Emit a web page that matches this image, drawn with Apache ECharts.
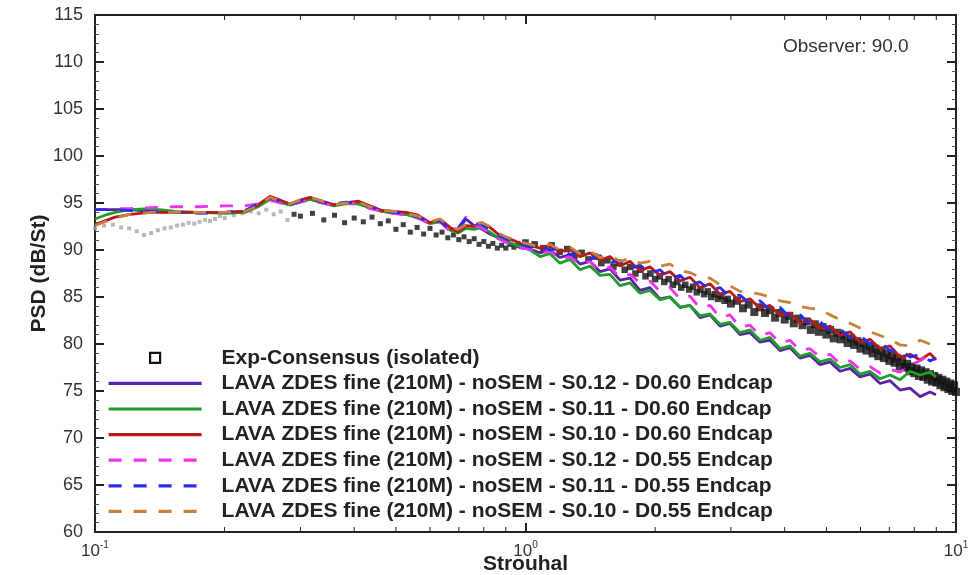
<!DOCTYPE html>
<html><head><meta charset="utf-8">
<script src="https://cdn.jsdelivr.net/npm/echarts@6/dist/echarts.min.js"></script>
<style>html,body{margin:0;padding:0;background:#fff}#c{width:968px;height:575px}</style>
</head><body><div id="c"></div>
<script>
// ---------- DATA ----------
const seriesNames = [
  'Exp-Consensus (isolated)',
  'LAVA ZDES fine (210M) - noSEM - S0.12 - D0.60 Endcap',
  'LAVA ZDES fine (210M) - noSEM - S0.11 - D0.60 Endcap',
  'LAVA ZDES fine (210M) - noSEM - S0.10 - D0.60 Endcap',
  'LAVA ZDES fine (210M) - noSEM - S0.12 - D0.55 Endcap',
  'LAVA ZDES fine (210M) - noSEM - S0.11 - D0.55 Endcap',
  'LAVA ZDES fine (210M) - noSEM - S0.10 - D0.55 Endcap'
];
const simSt = [0.100,0.1055,0.1113,0.1206,0.1342,0.1534,0.1753,0.2004,0.2231,0.2390,0.2549,0.2690,0.2838,0.2995,0.3158,0.3368,0.3591,0.3828,0.4082,0.4352,0.4642,0.4949,0.5277,0.5627,0.6000,0.6328,0.6678,0.6970,0.7274,0.7592,0.7925,0.8270,0.8631,0.9008,0.9404,0.9815,
1.0245,1.0807,1.140,1.2026,1.2688,1.3383,1.4118,1.4897,1.5714,1.6578,1.7486,1.8450,1.946,2.053,2.166,2.285,2.410,2.543,2.683,2.830,2.985,3.149,3.323,3.505,3.698,3.901,4.116,4.342,4.581,4.832,5.098,5.378,5.674,5.984,6.313,6.662,7.027,7.413,7.820,8.251,8.704,8.984];
const purpleDb = [94.3,94.3,94.3,94.3,94.1,94.0,94.0,94.0,94.1,94.8,95.4,95.1,94.8,95.2,95.4,95.1,94.8,95.0,95.0,94.5,94.1,94.0,93.8,93.5,92.9,93.1,92.3,92.1,93.3,92.6,92.2,91.7,91.3,90.9,90.5,90.2,
90.1,89.7,90.0,89.2,89.5,88.5,88.8,87.7,88.0,86.8,87.0,85.7,86.0,84.8,85.0,83.9,84.1,82.8,83.1,81.9,82.2,81.0,81.2,80.2,80.4,79.3,79.6,78.5,78.8,77.8,78.1,77.1,77.4,76.5,76.8,75.8,76.1,75.1,75.3,74.4,74.9,74.6];
const greenDb = [93.3,93.7,94.0,94.3,94.4,94.1,94.0,93.9,94.0,94.6,95.4,95.1,94.8,95.1,95.4,95.0,94.7,94.9,94.9,94.5,94.1,93.9,93.8,93.4,92.8,93.0,92.1,91.8,92.3,92.2,92.4,91.9,91.3,90.9,90.6,90.3,
90.0,89.3,89.6,88.6,89.0,87.9,88.3,87.3,87.4,86.2,86.5,85.4,85.7,84.7,85.0,83.9,84.1,83.0,83.2,82.1,82.3,81.2,81.5,80.4,80.7,79.5,79.8,78.7,79.0,78.1,78.4,77.5,77.8,76.8,77.1,76.3,76.7,76.2,77.1,76.7,77.0,76.5];
const redDb = [92.7,93.1,93.5,93.8,94.0,94.0,94.0,94.0,94.1,94.8,95.7,95.3,94.9,95.3,95.6,95.2,94.8,95.0,95.2,94.7,94.2,94.1,94.0,93.7,92.9,93.3,92.4,91.9,92.6,92.5,92.9,92.4,91.7,91.3,91.0,90.6,
90.5,90.2,90.5,89.8,90.1,89.3,89.7,88.9,89.3,88.3,88.8,87.8,88.2,87.3,87.7,86.7,87.1,86.0,86.4,85.3,85.6,84.5,84.8,83.8,84.1,83.0,83.3,82.2,82.6,81.6,81.9,80.9,81.3,80.2,80.5,79.5,79.8,78.6,78.9,78.3,79.0,78.3];
const magentaDb = [94.3,94.3,94.4,94.4,94.5,94.6,94.6,94.7,94.7,94.9,95.3,95.0,94.8,95.1,95.3,95.0,94.7,95.0,94.9,94.4,94.1,93.9,93.7,93.4,92.8,93.0,92.0,92.3,93.5,92.7,92.3,91.8,91.2,90.8,90.4,90.2,
90.1,89.6,89.9,89.0,89.3,88.4,88.8,87.8,88.2,87.1,87.4,86.5,86.7,85.6,86.0,84.8,85.1,83.8,84.1,82.8,83.1,81.8,82.0,80.9,81.2,80.1,80.4,79.3,79.5,78.6,78.9,77.9,78.2,77.3,77.6,76.9,77.3,77.0,77.8,78.2,78.9,78.4];
const blueDb = [94.3,94.3,94.3,94.2,94.1,94.0,93.9,94.0,94.2,94.9,95.5,95.2,94.8,95.2,95.5,95.1,94.9,95.1,95.0,94.6,94.2,94.0,93.9,93.5,93.0,93.1,92.2,92.3,93.4,92.8,92.7,92.2,91.6,91.2,90.8,90.6,
90.3,90.5,90.0,90.2,89.5,89.8,89.0,89.4,88.6,88.9,88.0,88.4,87.5,87.9,86.9,87.3,86.3,86.6,85.7,86.0,85.0,85.2,84.3,84.6,83.6,83.9,82.8,83.1,82.1,82.4,81.4,81.6,80.7,80.9,80.0,80.2,79.3,79.4,78.6,78.9,78.2,78.5];
const orangeDb = [92.6,93.0,93.4,93.8,94.0,94.0,94.0,94.0,94.1,94.7,95.6,95.2,94.9,95.3,95.6,95.2,94.8,95.0,95.1,94.6,94.2,94.1,93.9,93.6,93.0,93.3,92.5,92.2,92.7,92.8,92.9,92.5,91.8,91.4,91.1,90.8,
90.6,90.3,90.6,90.0,90.3,89.6,89.9,89.2,89.4,88.8,89.1,88.6,88.8,88.3,88.5,87.8,87.6,87.1,87.0,86.3,86.2,85.6,85.5,85.3,85.0,84.6,84.4,84.0,83.8,83.7,83.1,82.6,82.2,81.7,81.3,80.9,80.5,79.9,79.8,80.4,80.0,80.7];

const expSt = [0.100,0.105,0.110,0.115,0.120,0.125,0.130,0.135,0.140,0.145,0.150,0.155,0.160,0.165,0.170,0.175,0.180,0.185,0.190,0.195,0.200,0.210,0.220,0.230,0.240,0.250,0.260,0.270,0.280,0.290,
0.30,0.32,0.34,0.36,0.38,0.40,0.42,0.44,0.46,0.48,0.50,0.52,0.54,0.56,0.58,0.60,0.62,0.64,0.66,0.68,0.70,0.72,0.74,0.76,0.78,0.80,0.82,0.84,0.86,0.88,0.90,0.92,0.94,0.96,0.98,1.00,
1.05,1.10,1.15,1.20,1.25,1.30,1.35,1.40,1.45,1.50,1.55,1.60,1.65,1.70,1.75,1.80,1.85,1.90,1.95,2.00,2.05,2.10,2.15,2.20,2.25,2.30,2.35,2.40,2.45,2.50,2.55,2.60,2.65,2.70,2.75,2.80,2.85,2.90,2.95,3.00,
3.1,3.2,3.3,3.4,3.5,3.6,3.7,3.8,3.9,4.0,4.1,4.2,4.3,4.4,4.5,4.6,4.7,4.8,4.9,5.0,5.1,5.2,5.3,5.4,5.5,5.6,5.7,5.8,5.9,6.0,6.1,6.2,6.3,6.4,6.5,6.6,6.7,6.8,6.9,7.0,
7.1,7.2,7.3,7.4,7.5,7.6,7.7,7.8,7.9,8.0,8.1,8.2,8.3,8.4,8.5,8.6,8.7,8.8,8.9,9.0,9.1,9.2,9.3,9.4,9.5,9.6,9.7,9.8,9.9,10.0];
const expDb = [92.3,92.6,92.7,92.4,92.3,92.0,91.6,91.8,92.1,92.3,92.4,92.6,92.7,92.9,92.8,93.0,93.2,93.1,93.3,93.6,93.4,93.7,93.9,94.1,93.9,94.3,93.8,94.1,93.2,93.8,
93.6,93.9,93.2,93.7,92.9,93.4,93.0,93.5,92.8,93.1,92.2,92.7,91.9,92.4,91.7,92.3,91.6,91.9,91.3,91.6,91.1,91.4,90.9,91.2,90.6,90.9,90.4,90.7,90.2,90.5,90.2,90.6,90.3,90.7,90.4,90.8,
90.6,90.2,90.5,89.8,90.1,89.4,89.7,89.0,89.3,88.6,88.9,88.2,88.6,87.9,88.2,87.5,87.9,87.2,87.5,86.9,87.2,86.6,86.9,86.3,86.6,86.0,86.3,85.8,86.1,85.5,85.8,85.3,85.6,85.0,85.3,84.8,85.1,84.6,84.8,84.3,
84.6,83.8,84.2,83.4,83.9,83.3,83.6,82.8,83.3,82.6,83.0,82.2,82.7,82.0,82.4,81.5,82.1,81.3,81.8,81.0,81.5,80.6,81.2,80.5,80.9,80.1,80.6,79.9,80.3,79.5,80.1,79.3,79.8,79.0,79.5,78.7,79.3,78.5,79.0,78.2,
78.8,78.0,78.5,77.6,78.2,77.5,77.9,77.1,77.6,76.9,77.4,76.6,77.2,76.5,77.0,76.2,76.8,76.0,76.6,75.9,76.4,75.6,76.2,75.4,76.0,75.2,75.8,75.0,75.6,74.9];

const xMinorTicks = [0.2,0.3,0.4,0.5,0.6,0.7,0.8,0.9,2,3,4,5,6,7,8,9];
const yRange = [60, 115];
const yStep = 5;
const observerText = 'Observer: 90.0';

// ---------- CHART ----------
const FONT = '"Liberation Sans", Arial, Helvetica, sans-serif';
const chart = echarts.init(document.getElementById('c'), null, {renderer: 'canvas'});
const zip = (xs, ys) => xs.map((x, i) => [x, ys[i]]);
const simDb = [purpleDb, greenDb, redDb, magentaDb, blueDb, orangeDb];
const simColors = ['#5a22a8', '#1f9e2a', '#b81a1a', '#ee33ee', '#2b2bea', '#c8803a'];
const simDashed = [false, false, false, true, true, true];

const lineSeries = simDb.map((d, i) => ({
  name: seriesNames[i + 1],
  type: 'line',
  data: zip(simSt, d),
  symbol: 'none',
  silent: true,
  z: 3 + i,
  itemStyle: {color: simColors[i]},
  lineStyle: {color: simColors[i], width: 2.8, type: simDashed[i] ? [13, 12] : 'solid'}
}));

const expSeries = {
  name: seriesNames[0],
  type: 'scatter',
  symbol: 'rect',
  silent: true,
  z: 2,
  itemStyle: {color: '#111'},
  data: zip(expSt, expDb).map(p => p[0] < 0.285
    ? {value: p, symbolSize: 4, itemStyle: {color: '#a8a8a8'}}
    : {value: p, symbolSize: p[0] < 1 ? 5 : (p[0] < 3 ? 6.5 : 8)})
};

const axisLineStyle = {show: true, lineStyle: {color: '#222', width: 2}};
const minorTickSeries = {
  type: 'custom',
  silent: true,
  z: 10,
  data: xMinorTicks.map(v => [v, yRange[0]]),
  renderItem: (params, api) => {
    const x = api.coord([api.value(0), yRange[0]])[0];
    const yb = api.coord([api.value(0), yRange[0]])[1];
    const yt = api.coord([api.value(0), yRange[1]])[1];
    return {type: 'group', children: [
      {type: 'line', shape: {x1: x, y1: yb, x2: x, y2: yb - 5}, style: {stroke: '#222', lineWidth: 1}},
      {type: 'line', shape: {x1: x, y1: yt, x2: x, y2: yt + 5}, style: {stroke: '#222', lineWidth: 1}}
    ]};
  }
};

const yAxisBase = {
  type: 'value', min: yRange[0], max: yRange[1], interval: yStep,
  axisLine: axisLineStyle,
  axisTick: {show: true, inside: true, length: 9, lineStyle: {color: '#222', width: 2}},
  minorTick: {show: true, splitNumber: 5, length: 4, lineStyle: {color: '#555', width: 1}},
  splitLine: {show: false}, minorSplitLine: {show: false}
};

const legendData = seriesNames.map((n, i) => i === 0
  ? {name: n, icon: 'path://M0,5L0,5M93,5L93,5M41.5,0L51.5,0L51.5,10L41.5,10Z',
     itemStyle: {opacity: 1, color: '#fff', borderColor: '#111', borderWidth: 2.2}}
  : {name: n});

const option = {
  animation: false,
  backgroundColor: '#fff',
  textStyle: {fontFamily: FONT},
  grid: {left: 95, right: 12, top: 15, bottom: 43, containLabel: false, outerBoundsMode: 'none'},
  xAxis: [{
    type: 'log', logBase: 10, min: 0.1, max: 10,
    name: 'Strouhal', nameLocation: 'middle', nameGap: 22, nameMoveOverlap: false,
    nameTextStyle: {fontFamily: FONT, fontSize: 21, fontWeight: 'bold', color: '#222'},
    axisLine: axisLineStyle,
    axisTick: {show: true, inside: true, length: 9, lineStyle: {color: '#222', width: 2}},
    splitLine: {show: false},
    axisLabel: {
      margin: 8, color: '#333',
      formatter: v => '{b|10}{s|' + Math.round(Math.log10(v)) + '}',
      rich: {b: {fontFamily: FONT, fontSize: 17, color: '#333', lineHeight: 20, verticalAlign: 'bottom'},
             s: {fontFamily: FONT, fontSize: 10, color: '#333', lineHeight: 20, verticalAlign: 'top'}}
    }
  }, {
    type: 'log', logBase: 10, min: 0.1, max: 10, position: 'top',
    axisLine: axisLineStyle,
    axisTick: {show: true, inside: true, length: 9, lineStyle: {color: '#222', width: 2}},
    axisLabel: {show: false}, splitLine: {show: false}
  }],
  yAxis: [Object.assign({}, yAxisBase, {
    name: 'PSD (dB/St)', nameLocation: 'middle', nameGap: 45, nameRotate: 90, nameMoveOverlap: false,
    nameTextStyle: {fontFamily: FONT, fontSize: 21, fontWeight: 'bold', color: '#222'},
    axisLabel: {fontFamily: FONT, fontSize: 18, color: '#333', margin: 12}
  }), Object.assign({}, yAxisBase, {position: 'right', axisLabel: {show: false}})],
  legend: {
    orient: 'vertical', left: 107, top: 345, padding: 0,
    itemWidth: 93, itemHeight: 10, itemGap: 0,
    selectedMode: false,
    itemStyle: {opacity: 0},
    lineStyle: {width: 3.2},
    data: legendData,
    textStyle: {fontFamily: FONT, fontSize: 21, fontWeight: 'bold', color: '#222', lineHeight: 25.6, padding: [0, 0, 0, 15]}
  },
  graphic: [{
    type: 'text', left: 783, top: 37,
    style: {text: observerText, font: '19px ' + FONT, fill: '#333'}
  }],
  series: [expSeries].concat(lineSeries).concat([minorTickSeries])
};
chart.setOption(option);
</script></body></html>
